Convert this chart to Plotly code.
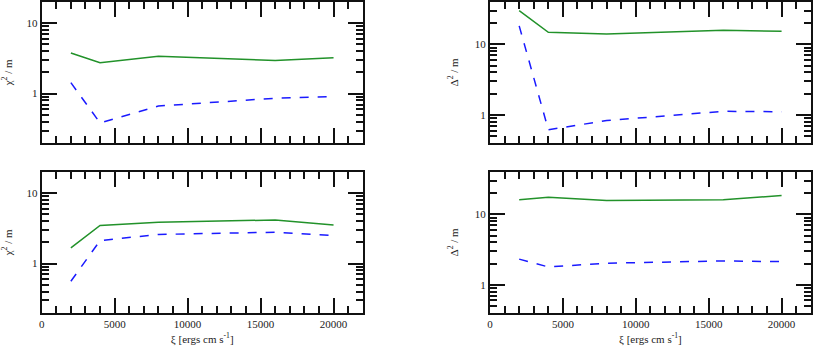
import numpy as np
import plotly.graph_objects as go

xi = [2000, 4000, 8000, 16000, 20000]

chi2_top_solid = [3.77, 2.73, 3.39, 2.94, 3.21]
chi2_top_dashed = [1.43, 0.385, 0.668, 0.86, 0.908]
chi2_bot_solid = [1.67, 3.47, 3.85, 4.16, 3.54]
chi2_bot_dashed = [0.56, 2.12, 2.59, 2.79, 2.49]

delta2_top_solid = [29.9, 14.8, 14.0, 15.8, 15.3]
delta2_top_dashed = [18.2, 0.617, 0.83, 1.125, 1.11]
delta2_bot_solid = [16.1, 17.5, 15.7, 16.1, 18.5]
delta2_bot_dashed = [2.31, 1.79, 2.02, 2.18, 2.13]

GREEN = '#22922a'
BLUE = '#1a1aff'
FONT = 'Times New Roman, Liberation Serif, serif'
TXT = dict(family=FONT, size=11, color='#222')

panels = [
    # (xaxis id, yaxis id, solid, dashed, x domain, y domain, y range, y title, show x labels)
    ('x', 'y', chi2_top_solid, chi2_top_dashed, [0.0512, 0.4456], [0.5926, 0.995], [0.2, 20], 'χ<sup>2</sup> / m', False),
    ('x2', 'y2', delta2_top_solid, delta2_top_dashed, [0.602, 0.996], [0.5926, 0.995], [0.4, 40], 'Δ<sup>2</sup> / m', False),
    ('x3', 'y3', chi2_bot_solid, chi2_bot_dashed, [0.0512, 0.4456], [0.109, 0.510], [0.2, 20], 'χ<sup>2</sup> / m', True),
    ('x4', 'y4', delta2_bot_solid, delta2_bot_dashed, [0.602, 0.996], [0.109, 0.510], [0.4, 40], 'Δ<sup>2</sup> / m', True),
]

fig = go.Figure()
layout = dict(
    width=814,
    height=351,
    margin=dict(l=0, r=0, t=0, b=0),
    paper_bgcolor='white',
    plot_bgcolor='white',
    showlegend=False,
    font=TXT,
)

for xa, ya, solid, dashed, xdom, ydom, yrng, ytitle, xlabels in panels:
    fig.add_trace(go.Scatter(x=xi, y=solid, mode='lines', xaxis=xa, yaxis=ya,
                             line=dict(color=GREEN, width=1.5)))
    fig.add_trace(go.Scatter(x=xi, y=dashed, mode='lines', xaxis=xa, yaxis=ya,
                             line=dict(color=BLUE, width=1.5, dash='dash')))
    xkey = 'xaxis' + xa[1:]
    ykey = 'yaxis' + ya[1:]
    layout[xkey] = dict(
        domain=xdom, anchor=ya, range=[0, 22000], automargin=False,
        dtick=5000, tick0=0, tickformat='d', ticks='inside', ticklen=15, tickwidth=1.5, tickcolor='#111',
        mirror='allticks', showline=True, linewidth=2, linecolor='#111',
        showgrid=False, zeroline=False, showticklabels=xlabels,
        minor=dict(ticks='inside', ticklen=7, dtick=1000, tickwidth=1.5, tickcolor='#111', showgrid=False),
        title=dict(text='ξ [ergs cm s<sup>-1</sup>]' if xlabels else '', standoff=6, font=TXT),
        tickfont=TXT,
    )
    layout[ykey] = dict(
        domain=ydom, anchor=xa, type='log', range=[np.log10(yrng[0]), np.log10(yrng[1])], automargin=False,
        dtick=1, ticks='inside', ticklen=15, tickwidth=1.5, tickcolor='#111',
        mirror='allticks', showline=True, linewidth=2, linecolor='#111',
        showgrid=False, zeroline=False,
        minor=dict(ticks='inside', ticklen=7, dtick='D1', tickwidth=1.5, tickcolor='#111', showgrid=False),
        title=dict(text=ytitle, standoff=14, font=TXT),
        tickfont=TXT,
    )

fig.update_layout(**layout)
# the page body has a default 8px margin; drop it so the figure sits at the window corner
fig.write_html('out.html', config={'displayModeBar': False},
               post_script="document.body.style.margin='0';")
